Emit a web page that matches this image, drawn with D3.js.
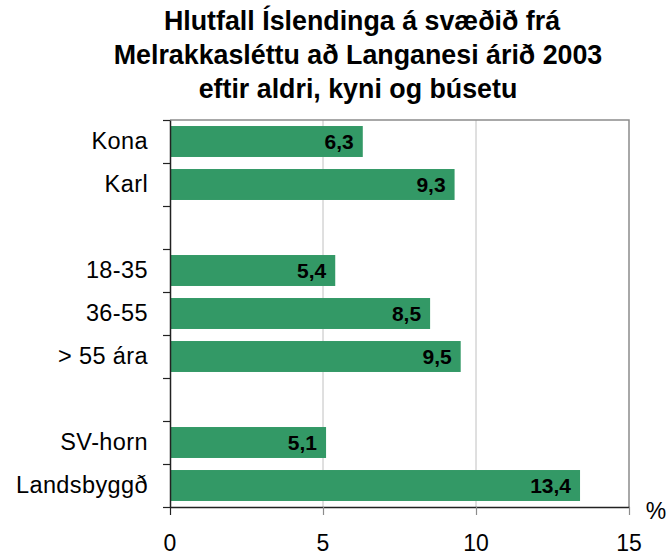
<!DOCTYPE html>
<html>
<head>
<meta charset="utf-8">
<script src="https://cdn.jsdelivr.net/npm/d3@7"></script>
<style>
  body { margin: 0; background: #fff; }
  svg { display: block; font-family: "Liberation Sans", Arial, sans-serif; }
</style>
</head>
<body>
<div id="chart"></div>
<script>
// blank entries are the gaps between the groups
var categories = ['Kona', 'Karl', '', '18-35', '36-55', '> 55 ára', '', 'SV-horn', 'Landsbyggð'];
var values = [6.3, 9.3, null, 5.4, 8.5, 9.5, null, 5.1, 13.4];
var xTicks = [0, 5, 10, 15];
var titleLines = ['Hlutfall Íslendinga á svæðið frá', 'Melrakkasléttu að Langanesi árið 2003', 'eftir aldri, kyni og búsetu'];

var width = 669, height = 555;
var plotLeft = 170, plotRight = 629, plotTop = 120, plotBottom = 507;
var barColor = '#339966';

var svg = d3.select('#chart').append('svg')
  .attr('width', width)
  .attr('height', height);

// title
svg.selectAll('text.title')
  .data(titleLines)
  .enter()
  .append('text')
  .attr('class', 'title')
  .attr('x', function (d, i) { return i === 0 ? 362 : 358; })
  .attr('y', function (d, i) { return 30 + i * 34; })
  .attr('text-anchor', 'middle')
  .attr('font-size', 26.8)
  .attr('font-weight', 'bold')
  .text(function (d) { return d; });

var x = d3.scaleLinear().domain([0, 15]).range([plotLeft, plotRight]);
var y = d3.scaleBand()
  .domain(d3.range(categories.length))
  .range([plotTop, plotBottom])
  .paddingInner(0.28)
  .paddingOuter(0.14);
var yEdge = d3.scaleLinear().domain([0, categories.length]).range([plotTop, plotBottom]);

// gridlines
svg.selectAll('line.grid')
  .data(xTicks.slice(1, -1))
  .enter()
  .append('line')
  .attr('x1', function (d) { return x(d); })
  .attr('x2', function (d) { return x(d); })
  .attr('y1', plotTop)
  .attr('y2', plotBottom)
  .attr('stroke', '#c0c0c0')
  .attr('stroke-width', 1);

// top and right border
svg.append('path')
  .attr('d', 'M' + plotLeft + ',' + plotTop + 'H' + plotRight + 'V' + plotBottom)
  .attr('fill', 'none')
  .attr('stroke', '#8c8c8c')
  .attr('stroke-width', 1.5);

// bars
var data = categories.map(function (c, i) { return { name: c, value: values[i], i: i }; })
  .filter(function (d) { return d.value != null; });

svg.selectAll('rect.bar')
  .data(data)
  .enter()
  .append('rect')
  .attr('class', 'bar')
  .attr('x', x(0))
  .attr('y', function (d) { return y(d.i); })
  .attr('width', function (d) { return x(d.value) - x(0); })
  .attr('height', y.bandwidth())
  .attr('fill', barColor);

svg.selectAll('text.val')
  .data(data)
  .enter()
  .append('text')
  .attr('class', 'val')
  .attr('x', function (d) { return x(d.value) - 9; })
  .attr('y', function (d) { return y(d.i) + y.bandwidth() / 2 + 7; })
  .attr('text-anchor', 'end')
  .attr('font-size', 21)
  .attr('font-weight', 'bold')
  .text(function (d) { return String(d.value).replace('.', ','); });

// category labels
svg.selectAll('text.cat')
  .data(categories)
  .enter()
  .append('text')
  .attr('class', 'cat')
  .attr('x', 148)
  .attr('y', function (d, i) { return y(i) + y.bandwidth() / 2 + 7; })
  .attr('text-anchor', 'end')
  .attr('font-size', 23.5)
  .attr('letter-spacing', 0.4)
  .text(function (d) { return d; });

// y axis with ticks between the categories
var yAxis = svg.append('g')
  .attr('transform', 'translate(' + plotLeft + ',0)')
  .call(d3.axisLeft(yEdge).ticks(categories.length).tickSize(7).tickSizeOuter(0).tickFormat(''));

// x axis
var xAxis = svg.append('g')
  .attr('transform', 'translate(0,' + plotBottom + ')')
  .call(d3.axisBottom(x).tickValues(xTicks).tickSize(8).tickSizeOuter(0).tickPadding(0).tickFormat(''));

[yAxis, xAxis].forEach(function (g) {
  g.select('.domain').attr('stroke', '#222').attr('stroke-width', 1.5);
  g.selectAll('.tick line').attr('stroke', '#222').attr('stroke-width', 1.2);
});
xAxis.selectAll('.tick line').attr('stroke', function (d) { return d === 0 ? '#222' : '#8c8c8c'; });

svg.selectAll('text.xt')
  .data(xTicks)
  .enter()
  .append('text')
  .attr('class', 'xt')
  .attr('x', function (d) { return x(d); })
  .attr('y', 551)
  .attr('text-anchor', 'middle')
  .attr('font-size', 23)
  .text(function (d) { return d; });

svg.append('text')
  .attr('x', 656)
  .attr('y', 519)
  .attr('text-anchor', 'middle')
  .attr('font-size', 23)
  .text('%');
</script>
</body>
</html>
